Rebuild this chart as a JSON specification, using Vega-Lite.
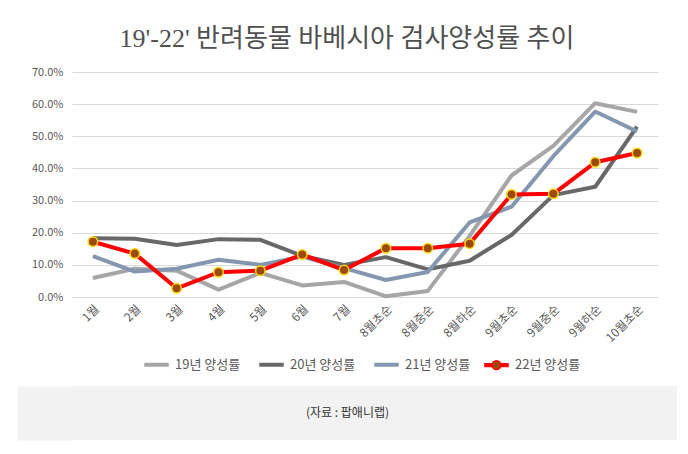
{
  "$schema": "https://vega.github.io/schema/vega-lite/v6.json",
  "background": "white",
  "padding": {"left": 17, "top": 26, "right": 11, "bottom": 7},
  "title": {
    "text": "19'-22' 반려동물 바베시아 검사양성률 추이",
    "font": "Liberation Serif, Noto Sans CJK KR",
    "fontSize": 26,
    "fontWeight": "normal",
    "color": "#505050",
    "anchor": "middle",
    "offset": 14
  },
  "config": {
    "font": "Noto Sans CJK KR",
    "view": {"stroke": null},
    "axis": {"labelColor": "#595959", "domain": false, "ticks": false, "title": null},
    "legend": {
      "orient": "bottom",
      "direction": "horizontal",
      "title": null,
      "symbolType": "stroke",
      "symbolStrokeWidth": 4,
      "symbolSize": 600,
      "labelFontSize": 13,
      "labelColor": "#595959",
      "labelOffset": 12,
      "columnPadding": 10,
      "offset": 14,
      "layout": {"bottom": {"anchor": "middle"}}
    }
  },
  "spacing": 13,
  "resolve": {"legend": {"color": "independent"}},
  "vconcat": [
    {
      "width": 586,
      "height": 225,
      "data": {
        "values": [
          {"period": "1월", "series": "19년 양성률", "rate": 0.059},
          {"period": "2월", "series": "19년 양성률", "rate": 0.088},
          {"period": "3월", "series": "19년 양성률", "rate": 0.082},
          {"period": "4월", "series": "19년 양성률", "rate": 0.023},
          {"period": "5월", "series": "19년 양성률", "rate": 0.075},
          {"period": "6월", "series": "19년 양성률", "rate": 0.036},
          {"period": "7월", "series": "19년 양성률", "rate": 0.047},
          {"period": "8월초순", "series": "19년 양성률", "rate": 0.002},
          {"period": "8월중순", "series": "19년 양성률", "rate": 0.019},
          {"period": "8월하순", "series": "19년 양성률", "rate": 0.19},
          {"period": "9월초순", "series": "19년 양성률", "rate": 0.378},
          {"period": "9월중순", "series": "19년 양성률", "rate": 0.47},
          {"period": "9월하순", "series": "19년 양성률", "rate": 0.603},
          {"period": "10월초순", "series": "19년 양성률", "rate": 0.576},
          {"period": "1월", "series": "20년 양성률", "rate": 0.183},
          {"period": "2월", "series": "20년 양성률", "rate": 0.181},
          {"period": "3월", "series": "20년 양성률", "rate": 0.162},
          {"period": "4월", "series": "20년 양성률", "rate": 0.18},
          {"period": "5월", "series": "20년 양성률", "rate": 0.178},
          {"period": "6월", "series": "20년 양성률", "rate": 0.128},
          {"period": "7월", "series": "20년 양성률", "rate": 0.1},
          {"period": "8월초순", "series": "20년 양성률", "rate": 0.124},
          {"period": "8월중순", "series": "20년 양성률", "rate": 0.086},
          {"period": "8월하순", "series": "20년 양성률", "rate": 0.113},
          {"period": "9월초순", "series": "20년 양성률", "rate": 0.193},
          {"period": "9월중순", "series": "20년 양성률", "rate": 0.317},
          {"period": "9월하순", "series": "20년 양성률", "rate": 0.343},
          {"period": "10월초순", "series": "20년 양성률", "rate": 0.53},
          {"period": "1월", "series": "21년 양성률", "rate": 0.127},
          {"period": "2월", "series": "21년 양성률", "rate": 0.079},
          {"period": "3월", "series": "21년 양성률", "rate": 0.088},
          {"period": "4월", "series": "21년 양성률", "rate": 0.116},
          {"period": "5월", "series": "21년 양성률", "rate": 0.1},
          {"period": "6월", "series": "21년 양성률", "rate": 0.126},
          {"period": "7월", "series": "21년 양성률", "rate": 0.09},
          {"period": "8월초순", "series": "21년 양성률", "rate": 0.053},
          {"period": "8월중순", "series": "21년 양성률", "rate": 0.078},
          {"period": "8월하순", "series": "21년 양성률", "rate": 0.232},
          {"period": "9월초순", "series": "21년 양성률", "rate": 0.281},
          {"period": "9월중순", "series": "21년 양성률", "rate": 0.438},
          {"period": "9월하순", "series": "21년 양성률", "rate": 0.577},
          {"period": "10월초순", "series": "21년 양성률", "rate": 0.515},
          {"period": "1월", "series": "22년 양성률", "rate": 0.172},
          {"period": "2월", "series": "22년 양성률", "rate": 0.135},
          {"period": "3월", "series": "22년 양성률", "rate": 0.027},
          {"period": "4월", "series": "22년 양성률", "rate": 0.077},
          {"period": "5월", "series": "22년 양성률", "rate": 0.082},
          {"period": "6월", "series": "22년 양성률", "rate": 0.132},
          {"period": "7월", "series": "22년 양성률", "rate": 0.084},
          {"period": "8월초순", "series": "22년 양성률", "rate": 0.152},
          {"period": "8월중순", "series": "22년 양성률", "rate": 0.152},
          {"period": "8월하순", "series": "22년 양성률", "rate": 0.166},
          {"period": "9월초순", "series": "22년 양성률", "rate": 0.319},
          {"period": "9월중순", "series": "22년 양성률", "rate": 0.321},
          {"period": "9월하순", "series": "22년 양성률", "rate": 0.419},
          {"period": "10월초순", "series": "22년 양성률", "rate": 0.448}
        ]
      },
      "encoding": {
        "x": {
          "field": "period",
          "type": "ordinal",
          "sort": null,
          "scale": {"type": "point", "padding": 0.5},
          "axis": {"labelAngle": -45, "labelFontSize": 12, "labelPadding": 6}
        },
        "y": {
          "field": "rate",
          "type": "quantitative",
          "scale": {"domain": [0, 0.7]},
          "axis": {
            "values": [0, 0.1, 0.2, 0.3, 0.4, 0.5, 0.6, 0.7],
            "format": ".1%",
            "labelFontSize": 11,
            "labelPadding": 9,
            "minExtent": 55,
            "gridColor": "#d9d9d9"
          }
        }
      },
      "layer": [
        {
          "mark": {"type": "line", "strokeWidth": 4, "strokeJoin": "round"},
          "encoding": {
            "color": {
              "field": "series",
              "type": "nominal",
              "scale": {
                "domain": ["19년 양성률", "20년 양성률", "21년 양성률", "22년 양성률"],
                "range": ["#a6a6a6", "#686868", "#8497b0", "#ff0000"]
              },
              "legend": {
                "encode": {
                  "symbols": {
                    "update": {
                      "shape": {"signal": "datum.value === '22년 양성률' ? 'M-1,-0.11H-0.36M0.36,-0.11H1M-1,0H-0.36M0.36,0H1M-1,0.11H-0.36M0.36,0.11H1M-0.36,0A0.36,0.36,0,1,1,0.36,0A0.36,0.36,0,1,1,-0.36,0Z' : 'stroke'"},
                      "fill": {"signal": "datum.value === '22년 양성률' ? '#9c4a0b' : 'transparent'"},
                      "strokeWidth": {"signal": "datum.value === '22년 양성률' ? 1.5 : 4"}
                    }
                  }
                }
              }
            }
          }
        },
        {
          "transform": [{"filter": "datum.series == '22년 양성률'"}],
          "mark": {
            "type": "point",
            "shape": "circle",
            "filled": true,
            "size": 90,
            "fill": "#9c4a0b",
            "stroke": "#ffd700",
            "strokeWidth": 1.5,
            "opacity": 1
          }
        }
      ]
    },
    {
      "width": 605,
      "height": 54,
      "view": {"fill": "#f2f2f2", "stroke": null},
      "data": {"values": [{"note": "(자료 : 팝애니랩)", "mid": 0}]},
      "mark": {"type": "text", "fontSize": 12, "color": "#333333", "dx": -27},
      "encoding": {
        "text": {"field": "note", "type": "nominal"},
        "y": {
          "field": "mid",
          "type": "quantitative",
          "scale": {"domain": [-1, 1]},
          "axis": {
            "labels": false,
            "grid": false,
            "domain": true,
            "domainColor": "#f2f2f2",
            "domainWidth": 55,
            "domainCap": "butt",
            "offset": 27.5,
            "minExtent": 0,
            "maxExtent": 0
          }
        }
      }
    }
  ]
}
